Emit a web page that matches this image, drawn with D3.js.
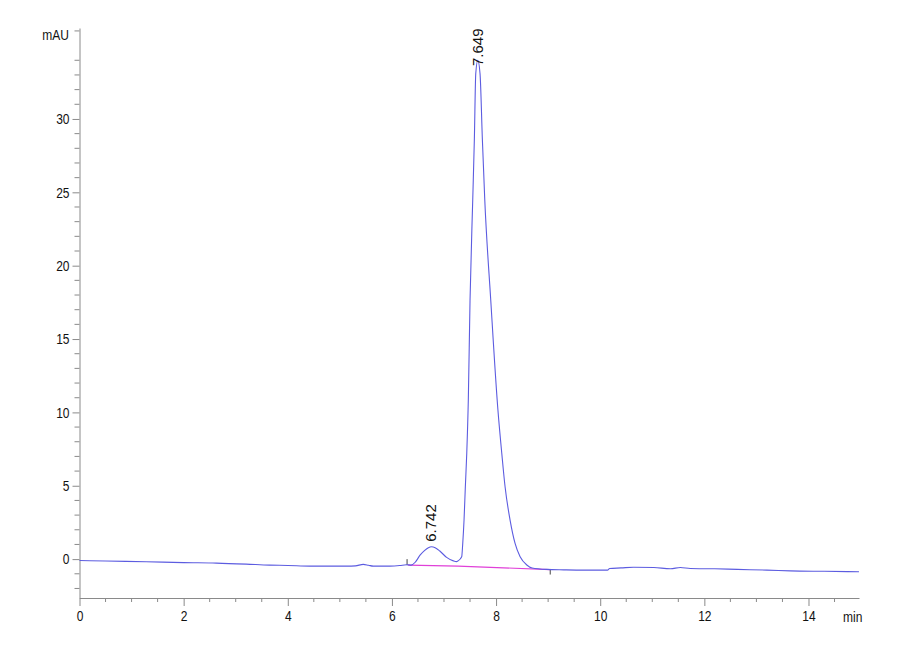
<!DOCTYPE html>
<html>
<head>
<meta charset="utf-8">
<script src="https://cdn.jsdelivr.net/npm/d3@7"></script>
<style>
  body { margin: 0; background: #fff; }
  .tick text, .narrow { font-family: "Liberation Sans", Arial, sans-serif; font-size: 15px; fill: #111; }
</style>
</head>
<body>
<svg id="mainSvg" width="900" height="660"></svg>
<script>
// chromatogram trace
let traceTime = [0, 0.5, 1.28, 2.0, 2.63, 3.2, 3.65, 4.0, 4.42, 5.13, 5.3, 5.45, 5.55, 5.64, 5.96, 6.15, 6.28, 6.37,
    6.45, 6.54, 6.63, 6.70, 6.76, 6.83, 6.92, 7.05, 7.18, 7.24, 7.269,
    7.34, 7.36, 7.385, 7.41, 7.437, 7.467, 7.50, 7.552, 7.583, 7.61, 7.649,
    7.692, 7.737, 7.783, 7.898, 8.035, 8.11, 8.173, 8.269, 8.365, 8.462, 8.59, 8.692,
    8.97, 9.3, 9.68, 10.14, 10.18, 10.4, 10.64, 11.03, 11.35, 11.54, 11.73, 12.2, 12.63, 13.2, 13.65, 14.3, 14.97];
let traceMAU = [-0.09, -0.13, -0.18, -0.24, -0.27, -0.34, -0.41, -0.43, -0.48, -0.48, -0.46, -0.36, -0.42, -0.48, -0.48, -0.44, -0.38, -0.41,
    -0.2, 0.27, 0.6, 0.78, 0.84, 0.78, 0.55, 0.12, -0.12, -0.17, -0.12,
    0.16, 1.07, 2.66, 4.93, 7.2, 10.84, 17.65, 24.5, 28.6, 33.1, 34.0,
    33.1, 28.6, 24.5, 17.65, 10.2, 7.2, 4.93, 2.66, 1.07, 0.16, -0.4, -0.6,
    -0.7, -0.73, -0.75, -0.75, -0.64, -0.6, -0.55, -0.57, -0.66, -0.57, -0.64, -0.66, -0.7, -0.75, -0.8, -0.83, -0.86];

// integration baseline (magenta)
let baselineTime = [6.31, 7.27, 9.04];
let baselineMAU = [-0.41, -0.48, -0.71];

// peak labels
let peakTime = [6.742, 7.649];
let peakMAU = [0.84, 34.0];
let peakLabel = ["6.742", "7.649"];

let xTicks = [0, 2, 4, 6, 8, 10, 12, 14];
let yTicks = [0, 5, 10, 15, 20, 25, 30];

let canvas = d3.select("#mainSvg");

let x = d3.scaleLinear().domain([0, 14.97]).range([79.5, 859]);
let y = d3.scaleLinear().domain([-2.65, 36.2]).range([598, 28]);

let axisColor = "#8a8a8a";

// squeeze text like the condensed instrument font
function narrow(sel) {
    sel.each(function() {
        let w = this.getComputedTextLength();
        d3.select(this).attr("textLength", w * 0.8).attr("lengthAdjust", "spacingAndGlyphs");
    });
}

// minor ticks
canvas.append("g")
    .attr("transform", "translate(79.5,0)")
    .selectAll("line")
    .data(d3.range(-2, 37, 1).filter(d => d % 5 !== 0))
    .enter()
        .append("line")
        .attr("x1", -5).attr("x2", 0)
        .attr("y1", d => y(d)).attr("y2", d => y(d))
        .attr("stroke", axisColor);

canvas.append("g")
    .attr("transform", "translate(0,598)")
    .selectAll("line")
    .data(d3.range(1, 30, 1).map(d => d / 2).filter(d => d % 2 !== 0))
    .enter()
        .append("line")
        .attr("x1", d => x(d)).attr("x2", d => x(d))
        .attr("y1", 0).attr("y2", 4)
        .attr("stroke", axisColor);

let yAxis = canvas.append("g")
    .attr("transform", "translate(79.5,0)")
    .call(d3.axisLeft(y).tickValues(yTicks).tickSize(7).tickSizeOuter(0).tickPadding(3).tickFormat(d3.format("d")));

let xAxis = canvas.append("g")
    .attr("transform", "translate(0,598)")
    .call(d3.axisBottom(x).tickValues(xTicks).tickSize(8).tickSizeOuter(0).tickPadding(4).tickFormat(d3.format("d")));

[yAxis, xAxis].forEach(a => {
    a.select(".domain").attr("stroke", axisColor);
    a.selectAll(".tick line").attr("stroke", axisColor);
    a.selectAll(".tick text").attr("fill", "#111").call(narrow);
});

canvas.append("text")
    .attr("class", "narrow")
    .attr("x", 69).attr("y", 40)
    .attr("text-anchor", "end")
    .text("mAU")
    .call(narrow);

canvas.append("text")
    .attr("class", "narrow")
    .attr("x", 843).attr("y", 622)
    .text("min")
    .call(narrow);

// baseline
let baseData = baselineTime.map((t, i) => ({t: t, v: baselineMAU[i]}));
canvas.append("path")
    .datum(baseData)
    .attr("d", d3.line().x(d => x(d.t)).y(d => y(d.v)))
    .attr("fill", "none")
    .attr("stroke", "#e040d8")
    .attr("stroke-width", 1.2);

// start / end markers of the integration
canvas.append("line")
    .attr("x1", x(baselineTime[0]) - 1).attr("x2", x(baselineTime[0]) - 1)
    .attr("y1", y(baselineMAU[0]) - 6).attr("y2", y(baselineMAU[0]))
    .attr("stroke", "#444");
let last = baselineTime.length - 1;
canvas.append("line")
    .attr("x1", x(baselineTime[last])).attr("x2", x(baselineTime[last]))
    .attr("y1", y(baselineMAU[last])).attr("y2", y(baselineMAU[last]) + 5)
    .attr("stroke", "#444");

// trace
let traceData = traceTime.map((t, i) => ({t: t, v: traceMAU[i]}));
canvas.append("path")
    .datum(traceData)
    .attr("d", d3.line().x(d => x(d.t)).y(d => y(d.v)).curve(d3.curveMonotoneX))
    .attr("fill", "none")
    .attr("stroke", "#5c5ce0")
    .attr("stroke-width", 1.1);

// peak labels, kept inside the plot top like the instrument does
let labelLen = 42;
canvas.selectAll(".peakLabel")
    .data(peakTime)
    .enter()
        .append("text")
        .attr("class", "peakLabel")
        .attr("transform", (d, i) => {
            let ly = Math.max(y(peakMAU[i]) - 5, 24 + labelLen);
            return "translate(" + (x(d) + 5) + "," + ly + ") rotate(-90)";
        })
        .attr("font-family", "Liberation Sans, Arial, sans-serif")
        .attr("font-size", 15)
        .attr("fill", "#111")
        .text((d, i) => peakLabel[i]);
</script>
</body>
</html>
